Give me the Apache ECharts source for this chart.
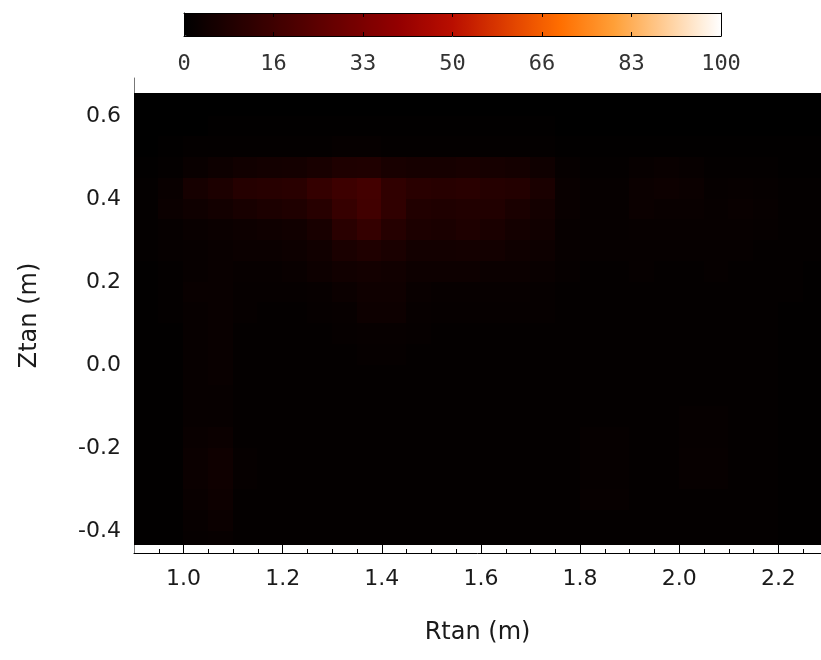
<!DOCTYPE html>
<html>
<head>
<meta charset="utf-8">
<script src="https://cdn.jsdelivr.net/npm/echarts@6/dist/echarts.min.js"></script>
<style>
  html, body { margin: 0; padding: 0; background: #ffffff; }
  #chart { width: 821px; height: 660px; }
</style>
</head>
<body>
<div id="chart"></div>
<script>
// Tangential emission map: cell edges in R (m) and Z (m), values in percent.
const rEdges = [0.90, 0.95, 1.00, 1.05, 1.10, 1.15, 1.20, 1.25, 1.30, 1.35, 1.40, 1.45, 1.50, 1.55, 1.60,
                1.65, 1.70, 1.75, 1.80, 1.85, 1.90, 1.95, 2.00, 2.05, 2.10, 2.15, 2.20, 2.25, 2.30];
const zEdges = [0.655, 0.60, 0.55, 0.50, 0.45, 0.40, 0.35, 0.30, 0.25, 0.20, 0.15, 0.10, 0.05, 0.00,
                -0.05, -0.10, -0.15, -0.20, -0.25, -0.30, -0.35, -0.40, -0.43];

// One array per Z band, top to bottom, one value per R cell.
const band_p60 = [0,0,0,0,0,0,0,0,0,0,0,0,0,0,0,0,0,0,0,0,0,0,0,0,0,0,0,0];
const band_p55 = [0,0,0,0.5,0.5,0.5,0.5,0.5,0.5,0.5,0.5,0.5,0.5,0.5,0.5,0.5,0.5,0,0,0,0,0,0,0,0,0,0,0];
const band_p50 = [0,0.5,1,1,1,1,1,1,1.5,1.5,1,1,1,1,1,1,1,0.5,0.5,0.5,0.5,0.5,0.5,0.5,0.5,0.5,0.5,0.5];
const band_p45 = [0.5,1,2.5,3.5,4.5,5,5.5,6.5,8,8.5,6.5,6,6,6.5,6,5.5,4,1.5,1,1,2,2.5,2,1,1,1,0.5,0.5];
const band_p40 = [1,2.5,6,7.5,10,10.5,11,14,16.5,18,13,11,10.5,11,10,9.5,7,2.5,1.5,1.5,3,3.5,3,1.5,2,1.5,1,1];
const band_p35 = [1,3,4,5,6.5,7.5,8.5,10.5,14.5,17.5,13,9,8.5,9,9,7,5.5,2.5,1.5,1.5,3,2.5,2.5,2,2.5,2,1,1];
const band_p30 = [1,1.5,2.5,3,3.5,4,4.5,6.5,11,14,10,7.5,7,8,7,5.5,4.5,2,1.5,1.5,2,2,2,2,2,1.5,1,1];
const band_p25 = [1,1.5,2,2.5,3,3,3.5,4.5,7,8.5,7,5,5,5.5,5,4,3.5,2,1.5,1.5,1.5,1.5,1.5,1.5,1.5,1,1,1];
const band_p20 = [0.5,1,2,2.5,2,2,2.5,3.5,4.5,5,4.5,3.5,3.5,3.5,3,3,2.5,1.5,1,1,1.5,1,1,1.5,1,1,1,0.5];
const band_p15 = [0.5,1,2.5,2.5,1.5,1.5,1.5,2,3,4,4,2.5,2,2,2,2,1.5,1,1,1,1,1,1,1,1,1,1,0.5];
const band_p10 = [0.5,1,2,2.5,1.5,1,1,1.5,2,3.5,3.5,2,1.5,1.5,1.5,1.5,1.5,1,1,1,1,1,1,1,1,1,0.5,0.5];
const band_p05 = [0.5,0.5,2,2.5,1,1,1,1,1.5,2,2,1.5,1,1,1,1,1,1,1,1,1,1,1,1,1,1,0.5,0.5];
const band_p00 = [0.5,0.5,2,2.5,1,1,1,1,1,1.5,1.5,1,1,1,1,1,1,1,1,1,1,1,1,1,1,1,0.5,0.5];
const band_m05 = [0.5,0.5,2,2.5,1,1,1,1,1,1,1,1,1,1,1,1,1,1,1,1,1,1,1,1,1,1,0.5,0.5];
const band_m10 = [0.5,0.5,2,2,1,1,1,1,1,1,1,1,1,1,1,1,1,1,1,1,1,1,1,1,1,1,0.5,0.5];
const band_m15 = [0.5,0.5,2,2,1,1,1,1,1,1,1,1,1,1,1,1,1,1,1,1,1,1,1.5,1.5,1,1,0.5,0.5];
const band_m20 = [0.5,0.5,2.5,3,1,1,1,1,1,1,1,1,1,1,1,1,1,1,1.5,1.5,1,1,1.5,1.5,1,1,0.5,0.5];
const band_m25 = [0.5,0.5,3,4,1.5,1,1,1,1,1,1,1,1,1,1,1,1,1,1.5,1.5,1,1,2,2,1,1,0.5,0.5];
const band_m30 = [0.5,0.5,3,4,1.5,1,1,1,1,1,1,1,1,1,1,1,1,1,1.5,1.5,1,1,2,2,1,1,0.5,0.5];
const band_m35 = [0.5,0.5,2.5,3.5,1,1,1,1,1,1,1,1,1,1,1,1,1,1,2,2,1,1,1,1,1,1,0.5,0.5];
const band_m40 = [0.5,0.5,2,3,1,1,1,1,1,1,1,1,1,1,1,1,1,1,1,1,1,1,1,1,1,1,0.5,0.5];
const band_m43 = [0.5,0.5,1.5,2,1,1,1,1,1,1,1,1,1,1,1,1,1,1,1,1,1,1,1,1,1,1,0.5,0.5];

const bands = [band_p60, band_p55, band_p50, band_p45, band_p40, band_p35, band_p30, band_p25,
               band_p20, band_p15, band_p10, band_p05, band_p00, band_m05, band_m10, band_m15,
               band_m20, band_m25, band_m30, band_m35, band_m40, band_m43];

// Axis ticks and labels
const rTicks = [1.0, 1.2, 1.4, 1.6, 1.8, 2.0, 2.2];
const rMinorTicks = [0.95, 1.05, 1.10, 1.15, 1.25, 1.30, 1.35, 1.45, 1.50, 1.55, 1.65, 1.70, 1.75,
                     1.85, 1.90, 1.95, 2.05, 2.10, 2.15, 2.25];
const zTicks = [-0.4, -0.2, 0.0, 0.2, 0.4, 0.6];
const scaleLabels = ['0', '16', '33', '50', '66', '83', '100'];

// Red-temperature palette, evenly spaced over 0..100
const palette = ['#000000', '#250000', '#4a0000', '#6f0000', '#940000', '#b90e00',
                 '#de3e00', '#ff6e00', '#ff9f37', '#ffcf9b', '#ffffff'];

const cells = [];
for (let i = 0; i < bands.length; i++) {
  for (let j = 0; j < rEdges.length - 1; j++) {
    cells.push([rEdges[j], rEdges[j + 1], zEdges[i + 1], zEdges[i], bands[i][j]]);
  }
}

const textFont = 'DejaVu Sans';
const textColor = '#1a1a1a';
const R_MIN = 0.9, R_MAX = 2.286, Z_MIN = -0.453, Z_MAX = 0.692;
const mainGrid = { left: 134, top: 78, width: 688, height: 475 };

const chart = echarts.init(document.getElementById('chart'), null, { renderer: 'canvas' });

chart.setOption({
  backgroundColor: '#ffffff',
  animation: false,
  grid: [
    Object.assign({ containLabel: false }, mainGrid),
    { left: 184, top: 13, width: 537, height: 23 },
    Object.assign({ containLabel: false }, mainGrid)
  ],
  visualMap: {
    type: 'continuous',
    min: 0, max: 100,
    seriesIndex: 0,
    dimension: 4,
    orient: 'horizontal',
    left: 184, top: 13,
    itemWidth: 23, itemHeight: 537,
    padding: 0,
    calculable: false,
    hoverLink: false,
    inRange: { color: palette }
  },
  xAxis: [
    {
      gridIndex: 0, type: 'value', min: R_MIN, max: R_MAX, position: 'bottom',
      axisLine: { show: true, onZero: false, lineStyle: { color: '#000', width: 1 } },
      axisTick: { show: true, inside: true, length: 9, customValues: rTicks, lineStyle: { color: '#000' } },
      axisLabel: {
        customValues: rTicks, margin: 15, fontFamily: textFont, fontSize: 22, color: textColor,
        formatter: v => v.toFixed(1)
      },
      splitLine: { show: false },
      name: 'Rtan (m)', nameLocation: 'middle', nameGap: 68,
      nameTextStyle: { fontFamily: textFont, fontSize: 24, color: textColor }
    },
    {
      gridIndex: 1, type: 'value', min: 0, max: 100, interval: 100 / 6, position: 'bottom', z: 10,
      axisLine: { show: true, onZero: false, lineStyle: { color: '#000', width: 1 } },
      axisTick: { show: true, inside: true, length: 4, lineStyle: { color: '#000' } },
      axisLabel: {
        margin: 17, fontFamily: 'DejaVu Sans Mono', fontSize: 22, color: '#333',
        formatter: v => scaleLabels[Math.round(v * 6 / 100)]
      },
      splitLine: { show: false }
    },
    {
      gridIndex: 1, type: 'value', min: 0, max: 100, interval: 100 / 6, position: 'top', z: 10,
      axisLine: { show: true, onZero: false, lineStyle: { color: '#000', width: 1 } },
      axisTick: { show: true, inside: true, length: 4, lineStyle: { color: '#000' } },
      axisLabel: { show: false },
      splitLine: { show: false }
    },
    {
      gridIndex: 2, type: 'value', min: R_MIN, max: R_MAX, position: 'bottom',
      axisLine: { show: false, onZero: false },
      axisTick: { show: true, inside: true, length: 4, customValues: rMinorTicks, lineStyle: { color: '#000' } },
      axisLabel: { show: false },
      splitLine: { show: false }
    }
  ],
  yAxis: [
    {
      gridIndex: 0, type: 'value', min: Z_MIN, max: Z_MAX, position: 'left',
      axisLine: { show: true, onZero: false, lineStyle: { color: '#777', width: 1 } },
      axisTick: { show: true, inside: true, length: 9, customValues: zTicks, lineStyle: { color: '#000' } },
      axisLabel: {
        customValues: zTicks, margin: 13, fontFamily: textFont, fontSize: 22, color: textColor,
        formatter: v => v.toFixed(1)
      },
      splitLine: { show: false },
      name: 'Ztan (m)', nameLocation: 'middle', nameGap: 92,
      nameTextStyle: { fontFamily: textFont, fontSize: 24, color: textColor }
    },
    {
      gridIndex: 1, type: 'value', min: 0, max: 1, position: 'left', z: 10,
      axisLine: { show: true, onZero: false, lineStyle: { color: '#000', width: 1 } },
      axisTick: { show: false }, axisLabel: { show: false }, splitLine: { show: false }
    },
    {
      gridIndex: 1, type: 'value', min: 0, max: 1, position: 'right', z: 10,
      axisLine: { show: true, onZero: false, lineStyle: { color: '#000', width: 1 } },
      axisTick: { show: false }, axisLabel: { show: false }, splitLine: { show: false }
    },
    {
      gridIndex: 2, type: 'value', min: Z_MIN, max: Z_MAX, show: false
    }
  ],
  series: [
    {
      type: 'custom',
      xAxisIndex: 0, yAxisIndex: 0,
      data: cells,
      encode: { x: [0, 1], y: [2, 3] },
      clip: true,
      silent: true,
      renderItem: function (params, api) {
        const topLeft = api.coord([api.value(0), api.value(3)]);
        const bottomRight = api.coord([api.value(1), api.value(2)]);
        const x0 = Math.floor(topLeft[0]), y0 = Math.floor(topLeft[1]);
        const x1 = Math.ceil(bottomRight[0]), y1 = Math.ceil(bottomRight[1]);
        return {
          type: 'rect',
          shape: { x: x0, y: y0, width: x1 - x0 + 1, height: y1 - y0 + 1 },
          style: { fill: api.visual('color') }
        };
      }
    }
  ]
});
</script>
</body>
</html>
